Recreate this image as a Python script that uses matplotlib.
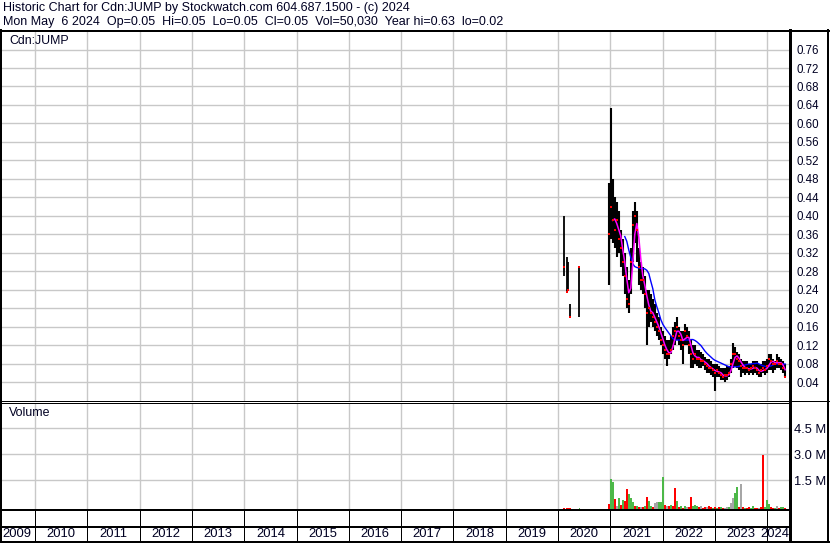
import matplotlib
matplotlib.use('Agg')
import matplotlib.pyplot as plt
import numpy as np
import pandas as pd
from datetime import datetime

plt.rcParams['font.family'] = ['Liberation Sans', 'DejaVu Sans']

# ---------------- data ----------------
header1 = "Historic Chart for Cdn:JUMP by Stockwatch.com 604.687.1500 - (c) 2024"
header2 = "Mon May  6 2024  Op=0.05  Hi=0.05  Lo=0.05  Cl=0.05  Vol=50,030  Year hi=0.63  lo=0.02"
symbol = "Cdn:JUMP"

early_dates = ["2020-02-14", "2020-03-04", "2020-03-11", "2020-03-27", "2020-05-29"]
early_high = [0.40, 0.31, 0.30, 0.21, 0.29]
early_low = [0.27, 0.236, 0.24, 0.18, 0.18]
early_close = [0.29, 0.236, 0.24, 0.18, 0.29]
early_vol = [0.08, 0.06, 0.07, 0.05, 0.06]          # millions
early_dir = "rrrrg"

main_start = "2020-12-20"   # bi-weekly bars
high = [0.47, 0.634, 0.48, 0.44, 0.43, 0.41, 0.37, 0.35, 0.32, 0.29,
        0.26, 0.33, 0.41, 0.43, 0.41, 0.33, 0.30, 0.29, 0.27, 0.24,
        0.24, 0.23, 0.22, 0.21, 0.19, 0.18, 0.16, 0.15, 0.14, 0.13,
        0.13, 0.14, 0.16, 0.17, 0.18, 0.16, 0.15, 0.15, 0.165, 0.16,
        0.15, 0.13, 0.12, 0.12, 0.11, 0.11, 0.105, 0.10, 0.095, 0.09,
        0.09, 0.085, 0.08, 0.08, 0.08, 0.075, 0.07, 0.07, 0.07, 0.075,
        0.075, 0.09, 0.125, 0.115, 0.105, 0.10, 0.09, 0.085, 0.085, 0.085,
        0.08, 0.08, 0.085, 0.085, 0.085, 0.08, 0.08, 0.085, 0.085, 0.09,
        0.10, 0.10, 0.09, 0.085, 0.10, 0.095, 0.09, 0.085, 0.08]
low = [0.25, 0.35, 0.34, 0.33, 0.31, 0.32, 0.29, 0.27, 0.23, 0.20,
       0.19, 0.23, 0.30, 0.34, 0.30, 0.25, 0.24, 0.23, 0.20, 0.12,
       0.16, 0.17, 0.16, 0.15, 0.14, 0.13, 0.12, 0.10, 0.09, 0.075,
       0.09, 0.10, 0.11, 0.12, 0.13, 0.12, 0.11, 0.08, 0.12, 0.12,
       0.10, 0.07, 0.07, 0.08, 0.075, 0.07, 0.07, 0.075, 0.065, 0.06,
       0.06, 0.055, 0.05, 0.02, 0.05, 0.05, 0.045, 0.045, 0.04, 0.045,
       0.05, 0.06, 0.07, 0.075, 0.07, 0.065, 0.05, 0.06, 0.055, 0.06,
       0.055, 0.06, 0.055, 0.06, 0.055, 0.05, 0.05, 0.06, 0.055, 0.06,
       0.065, 0.065, 0.06, 0.065, 0.07, 0.07, 0.065, 0.06, 0.05]
close = [0.36, 0.42, 0.39, 0.37, 0.39, 0.35, 0.33, 0.30, 0.27, 0.22,
         0.21, 0.30, 0.38, 0.40, 0.37, 0.29, 0.26, 0.26, 0.23, 0.19,
         0.20, 0.19, 0.18, 0.17, 0.16, 0.15, 0.13, 0.12, 0.11, 0.10,
         0.10, 0.11, 0.14, 0.15, 0.16, 0.14, 0.13, 0.12, 0.15, 0.14,
         0.12, 0.10, 0.09, 0.10, 0.09, 0.09, 0.085, 0.085, 0.08, 0.075,
         0.07, 0.07, 0.065, 0.06, 0.065, 0.06, 0.055, 0.05, 0.055, 0.055,
         0.06, 0.08, 0.10, 0.10, 0.09, 0.085, 0.075, 0.07, 0.07, 0.07,
         0.065, 0.07, 0.075, 0.07, 0.065, 0.06, 0.065, 0.07, 0.065, 0.075,
         0.09, 0.085, 0.08, 0.08, 0.085, 0.08, 0.08, 0.07, 0.05]
# long moving average (blue); starts at bar 8
ma_long_vals = [0.355, 0.345, 0.326, 0.310, 0.296, 0.290, 0.288, 0.287, 0.286, 0.286,
                0.285, 0.282, 0.275, 0.258, 0.242, 0.218, 0.203, 0.190, 0.175, 0.165,
                0.158, 0.152, 0.146, 0.140, 0.134, 0.131, 0.131, 0.131, 0.131, 0.131,
                0.131, 0.131, 0.131, 0.132, 0.132, 0.130, 0.127, 0.123, 0.119, 0.113,
                0.107, 0.102, 0.098, 0.094, 0.090, 0.087, 0.085, 0.083, 0.081, 0.079,
                0.077, 0.075, 0.073, 0.073, 0.073, 0.073, 0.073, 0.074, 0.075, 0.076,
                0.077, 0.078, 0.079, 0.079, 0.080, 0.080, 0.081, 0.079, 0.077, 0.075,
                0.074, 0.073, 0.074, 0.075, 0.077, 0.079, 0.079, 0.079, 0.079, 0.079,
                0.079]
volume = [0.27, 1.75, 1.57, 0.60, 0.20, 0.65, 0.25, 0.54, 0.45, 1.17,
          0.85, 0.65, 0.40, 0.20, 0.15, 0.12, 0.10, 0.10, 0.20, 0.69,
          0.45, 0.20, 0.12, 0.33, 0.38, 0.38, 0.40, 1.86, 0.25, 0.18,
          0.20, 0.25, 0.15, 1.21, 0.45, 0.10, 0.15, 0.08, 0.20, 0.12,
          0.10, 0.71, 0.15, 0.25, 0.20, 0.10, 0.15, 0.08, 0.10, 0.12,
          0.15, 0.14, 0.08, 0.12, 0.08, 0.10, 0.10, 0.06, 0.08, 0.10,
          0.12, 0.35, 0.65, 0.94, 1.29, 0.10, 1.42, 0.10, 0.08, 0.06,
          0.10, 0.06, 0.20, 0.08, 0.05, 0.06, 0.10, 3.09, 0.12, 0.50,
          0.30, 0.10, 0.08, 0.06, 0.15, 0.08, 0.10, 0.12, 0.05]
vol_dir = ("rggrngrgrr" "gggrgrnrgr" "ggrnngggrn" "rgrrgrgrgn" "rrgggrnrrn"
           "rrgrgrgrnn" "gnnggrnrgr" "rggrrnrrgg" "grrgnrggr")

price_ticks = [0.04, 0.08, 0.12, 0.16, 0.20, 0.24, 0.28, 0.32, 0.36, 0.40,
               0.44, 0.48, 0.52, 0.56, 0.60, 0.64, 0.68, 0.72, 0.76]
vol_ticks = [1.5, 3.0, 4.5]
vol_tick_labels = ["1.5 M", "3.0 M", "4.5 M"]
years = list(range(2009, 2025))

# ---------------- derived ----------------
main_dates = pd.date_range(main_start, periods=len(close), freq="14D")
e_dates = pd.to_datetime(early_dates)
ma_short = pd.Series(close).rolling(3).mean().values
ma_long_dates = main_dates[len(close) - len(ma_long_vals):]
cmap = {"g": "#4cb848", "r": "#ff0000", "n": "#a6a6a6"}

# ---------------- layout ----------------
W, H = 830, 543
fig = plt.figure(figsize=(W / 100, H / 100), dpi=100)
fig.patch.set_facecolor("white")


def rect(x0, y0, x1, y1):
    return [x0 / W, 1 - y1 / H, (x1 - x0) / W, (y1 - y0) / H]


xmin, xmax = datetime(2009, 5, 15), datetime(2024, 6, 1)
year_starts = [datetime(y, 1, 1) for y in years[1:]]
GRID = "#c8c8c8"
PX = 0.72
TXT = "#000022"

# price panel
axp = fig.add_axes(rect(2, 32, 789, 400.5))
axp.set_xlim(xmin, xmax)
axp.set_ylim(0, 0.798)
for s in axp.spines.values():
    s.set_visible(False)
axp.set_xticks(year_starts)
axp.tick_params(axis="x", length=0, labelbottom=False)
axp.yaxis.tick_right()
axp.set_yticks(price_ticks)
axp.set_yticklabels([f"{t:.2f}" for t in price_ticks])
axp.tick_params(axis="y", length=0, pad=5.5, labelsize=8.3, labelcolor=TXT)
axp.grid(True, color=GRID, lw=1.0)
axp.set_axisbelow(True)

axp.vlines(e_dates, early_low, early_high, color="black", lw=1.3)
axp.plot(e_dates, early_close, ls="none", marker="s", ms=2.0, mew=0, color="red")
axp.vlines(main_dates, low, high, color="black", lw=1.5)
axp.plot(ma_long_dates, ma_long_vals, color="#0000ff", lw=1.0)
axp.plot(main_dates, ma_short, color="#ff00ff", lw=1.1)
axp.plot(main_dates, close, ls="none", marker="s", ms=2.0, mew=0, color="red")

# volume panel
axv = fig.add_axes(rect(2, 403.5, 789, 509))
axv.set_xlim(xmin, xmax)
axv.set_ylim(-0.156, 5.93)
for s in axv.spines.values():
    s.set_visible(False)
axv.set_xticks(year_starts)
axv.tick_params(axis="x", length=0, labelbottom=False)
axv.yaxis.tick_right()
axv.set_yticks(vol_ticks)
axv.set_yticklabels(vol_tick_labels)
axv.tick_params(axis="y", length=0, pad=3.5, labelsize=9.3, labelcolor=TXT)
axv.grid(True, color=GRID, lw=1.0)
axv.set_axisbelow(True)
vb = axv.get_ylim()[0]
axv.bar(e_dates, early_vol, bottom=vb, width=12, color=[cmap[c] for c in early_dir], lw=0)
axv.bar(main_dates, volume, bottom=vb, width=13, color=[cmap[c] for c in vol_dir], lw=0)

# date strip
axd = fig.add_axes(rect(2, 510, 789, 542))
axd.set_xlim(xmin, xmax)
axd.set_ylim(0, 2)
axd.axis("off")
for d in year_starts:
    axd.axvline(d, color="black", lw=PX)
for y in years:
    a = max(datetime(y, 1, 1), xmin)
    b = min(datetime(y + 1, 1, 1), xmax)
    if y == years[0]:
        axd.text(a, 0.5, str(y), ha="left", va="center", fontsize=9.4, color=TXT)
    elif y == years[-1]:
        axd.text(b, 0.5, str(y), ha="right", va="center", fontsize=9.4, color=TXT)
    else:
        axd.text(a + (b - a) / 2, 0.5, str(y), ha="center", va="center", fontsize=9.4, color=TXT)

# frame overlay
ov = fig.add_axes([0, 0, 1, 1], zorder=10)
ov.set_xlim(0, W)
ov.set_ylim(H, 0)
ov.axis("off")
ov.patch.set_alpha(0)
ov.plot([0, W], [30.5, 30.5], color="black", lw=2 * PX)
ov.plot([1, 1], [30, H], color="black", lw=2 * PX)
ov.plot([790, 790], [30, H], color="black", lw=3 * PX)
ov.plot([828, 828], [30, H], color="black", lw=2 * PX)
ov.plot([0, 790], [400.5, 400.5], color="black", lw=1 * PX)
ov.plot([790, W], [400.5, 400.5], color="black", lw=1 * PX)
ov.plot([0, 790], [403, 403], color="black", lw=1 * PX)
ov.plot([0, 790], [509.7, 509.7], color="black", lw=2 * PX)
ov.plot([0, 790], [526.5, 526.5], color="black", lw=2 * PX)
ov.plot([0, W], [542, 542], color="black", lw=2 * PX)

fig.text(3 / W, 1 - 1.5 / H, header1, ha="left", va="top", fontsize=9.0, color=TXT)
fig.text(3 / W, 1 - 16 / H, header2, ha="left", va="top", fontsize=9.0, color=TXT)
fig.text(9 / W, 1 - 35.5 / H, symbol, ha="left", va="top", fontsize=8.9, color=TXT)
fig.text(9 / W, 1 - 406.5 / H, "Volume", ha="left", va="top", fontsize=8.9, color=TXT)

fig.savefig("out.png", dpi=100)
